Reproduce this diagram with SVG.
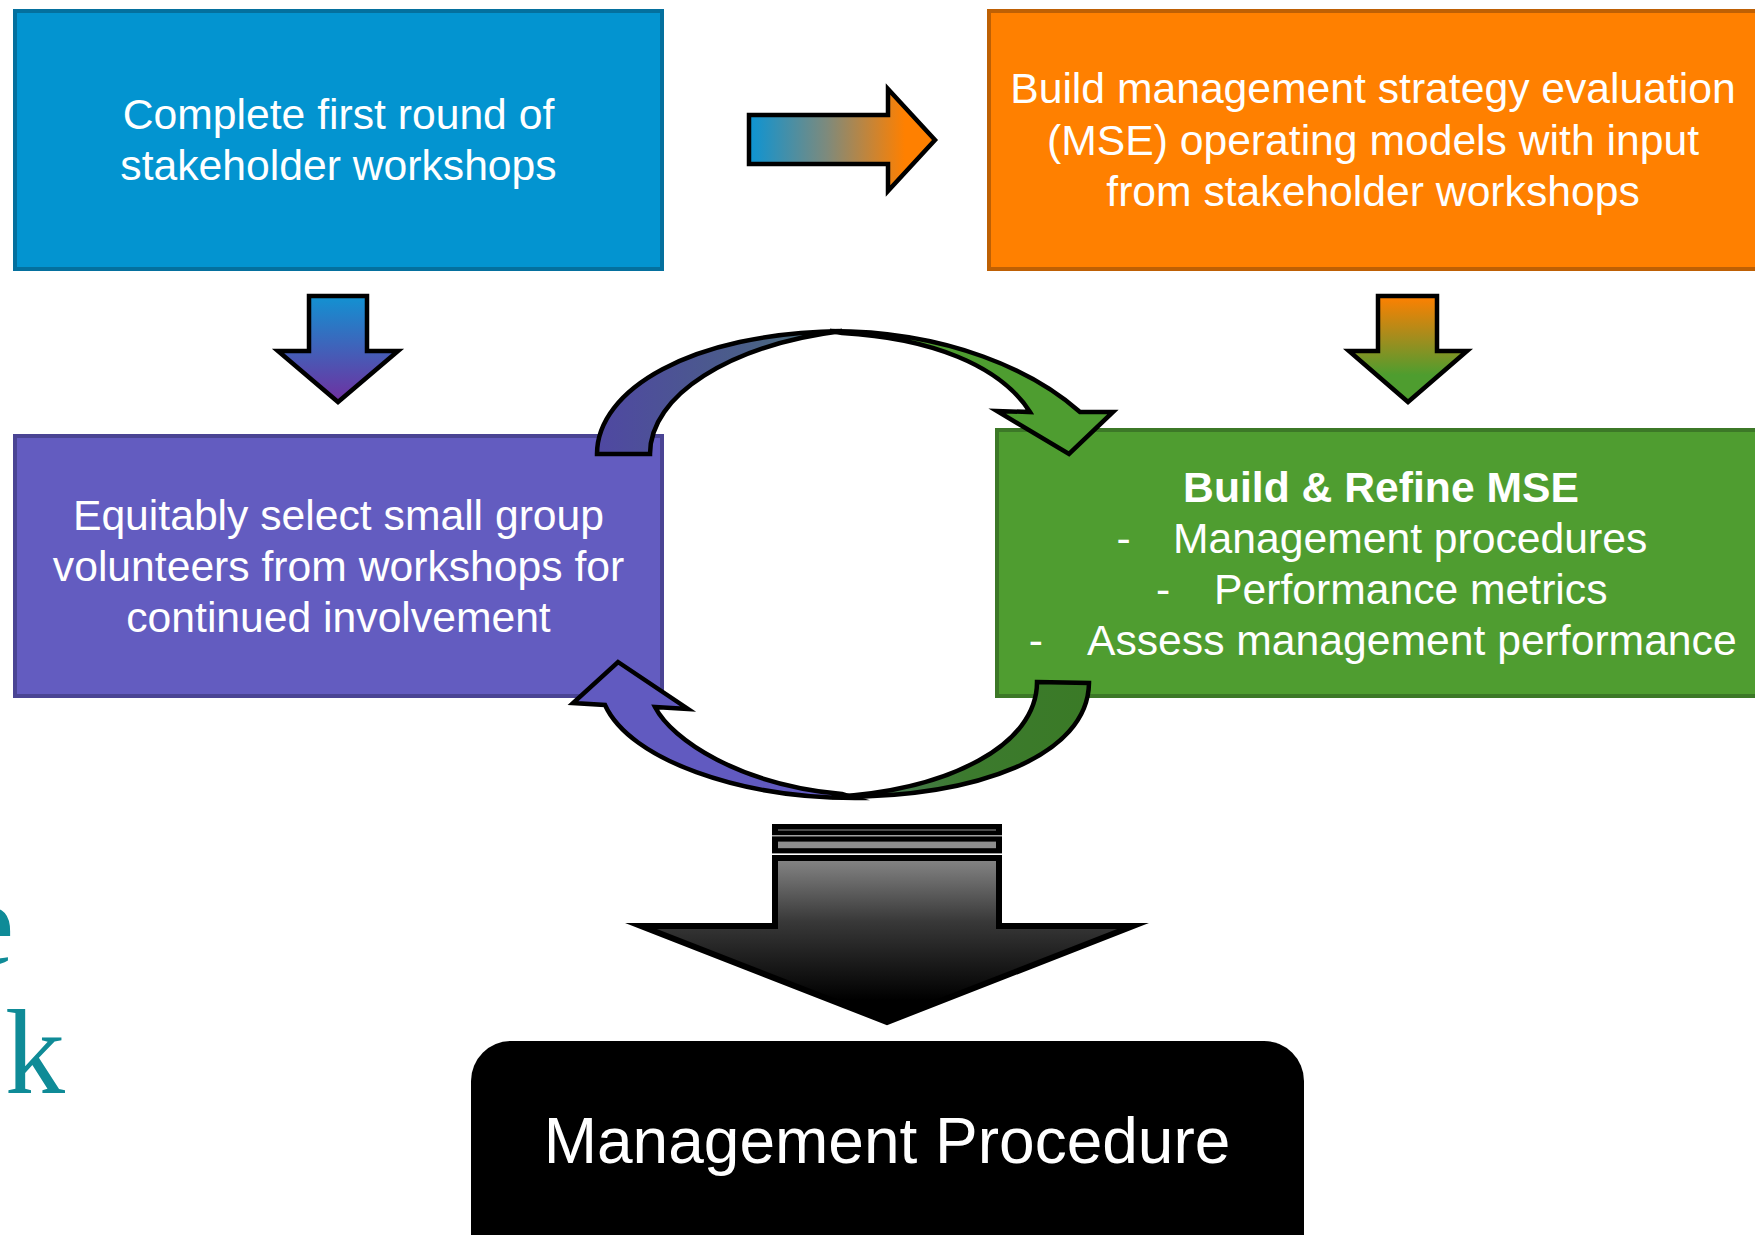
<svg xmlns="http://www.w3.org/2000/svg" width="1755" height="1235" viewBox="0 0 1755 1235">
  <style>
    .box { stroke-width: 4; }
    .t { font-family: "Liberation Sans", Arial, sans-serif; font-size: 42.67px; fill: #ffffff; }
    .mid { text-anchor: middle; }
    .b { font-weight: bold; }
    .conn { stroke: #000000; stroke-width: 4.5; stroke-linejoin: miter; stroke-miterlimit: 10; }
    .bg { font-family: "Liberation Serif", "Times New Roman", serif; font-size: 120px; fill: #0F8B97; }
  </style>
  <defs>
    <linearGradient id="gRight" gradientUnits="userSpaceOnUse" x1="749" y1="0" x2="905" y2="0">
      <stop offset="0" stop-color="#0C94D4"/>
      <stop offset="0.5" stop-color="#7E8A7C"/>
      <stop offset="1" stop-color="#FF8000"/>
    </linearGradient>
    <linearGradient id="gDownL" gradientUnits="userSpaceOnUse" x1="0" y1="296" x2="0" y2="402">
      <stop offset="0" stop-color="#1292D2"/>
      <stop offset="1" stop-color="#7030A0"/>
    </linearGradient>
    <linearGradient id="gDownR" gradientUnits="userSpaceOnUse" x1="0" y1="296" x2="0" y2="375">
      <stop offset="0" stop-color="#FF8000"/>
      <stop offset="0.5" stop-color="#A88C1C"/>
      <stop offset="1" stop-color="#4E9D2F"/>
    </linearGradient>
    <linearGradient id="gUL" gradientUnits="userSpaceOnUse" x1="597" y1="0" x2="845" y2="0">
      <stop offset="0" stop-color="#4F48A2"/>
      <stop offset="0.6" stop-color="#4A5E88"/>
      <stop offset="1" stop-color="#4A7672"/>
    </linearGradient>
    <linearGradient id="gLR" gradientUnits="userSpaceOnUse" x1="1090" y1="0" x2="840" y2="0">
      <stop offset="0" stop-color="#3A7A26"/>
      <stop offset="0.5" stop-color="#3C7A2E"/>
      <stop offset="1" stop-color="#4C7866"/>
    </linearGradient>
    <linearGradient id="gBig" gradientUnits="userSpaceOnUse" x1="0" y1="858" x2="0" y2="1000">
      <stop offset="0" stop-color="#868686"/>
      <stop offset="0.45" stop-color="#383838"/>
      <stop offset="1" stop-color="#000000"/>
    </linearGradient>
  </defs>

  <!-- background text fragments (cut off at the left edge, as in the picture) -->
  <g id="bg-text">
    <text class="bg" x="-39" y="964">e</text>
    <text class="bg" x="5" y="1093">k</text>
  </g>

  <!-- nodes -->
  <g id="node-workshops">
    <rect class="box" x="15" y="11" width="647" height="258" fill="#0394D0" stroke="#04709E"/>
    <text class="t mid" x="338.5" y="129">Complete first round of</text>
    <text class="t mid" x="338.5" y="180">stakeholder workshops</text>
  </g>

  <g id="node-build-mse">
    <rect class="box" x="989" y="11" width="770" height="258" fill="#FF8000" stroke="#BE6004"/>
    <text class="t mid" x="1373" y="103">Build management strategy evaluation</text>
    <text class="t mid" x="1373" y="155">(MSE) operating models with input</text>
    <text class="t mid" x="1373" y="206">from stakeholder workshops</text>
  </g>

  <g id="node-volunteers">
    <rect class="box" x="15" y="436" width="647" height="260" fill="#635CC0" stroke="#4A4494"/>
    <text class="t mid" x="338.5" y="530">Equitably select small group</text>
    <text class="t mid" x="338.5" y="581">volunteers from workshops for</text>
    <text class="t mid" x="338.5" y="632">continued involvement</text>
  </g>

  <g id="node-refine">
    <rect class="box" x="997" y="430" width="770" height="266" fill="#4F9D30" stroke="#3C7827"/>
    <text class="t mid b" x="1381" y="502">Build &amp; Refine MSE</text>
    <text class="t" x="1116.5" y="553">-</text>
    <text class="t" x="1173" y="553">Management procedures</text>
    <text class="t" x="1156" y="604">-</text>
    <text class="t" x="1214" y="604">Performance metrics</text>
    <text class="t" x="1028.7" y="655">-</text>
    <text class="t" x="1087" y="655">Assess management performance</text>
  </g>

  <g id="node-procedure">
    <rect x="471" y="1041" width="833" height="260" rx="40" ry="40" fill="#000000"/>
    <text class="mid" x="887" y="1163" font-family="Liberation Sans, Arial, sans-serif" font-size="64" fill="#ffffff">Management Procedure</text>
  </g>

  <!-- connectors -->
  <g id="connectors">
    <path class="conn" fill="url(#gRight)" d="M 749,115 L 888,115 L 888,89 L 935,140 L 888,191 L 888,164 L 749,164 Z"/>
    <path class="conn" fill="url(#gDownL)" d="M 309,296 L 367,296 L 367,351 L 398,351 L 338,402 L 278,351 L 309,351 Z"/>
    <path class="conn" fill="url(#gDownR)" d="M 1378,296 L 1437,296 L 1437,351 L 1467,351 L 1408,402 L 1349,351 L 1378,351 Z"/>

    <!-- cycle arrows -->
    <path class="conn" fill="#4E9D30" d="M 830,331 C 950,331 1035,372 1080,412 L 1113,412 L 1069,454 L 997,411 L 1030,412 C 1000,365 930,338 842,333 Z"/>
    <path class="conn" fill="url(#gUL)" d="M 597,454 C 597,390 690,333 842,331 C 730,345 650,395 650,454 Z"/>
    <path class="conn" fill="#615AC0" d="M 855,798 C 740,798 630,760 605,705 L 573,703 L 618,662 L 688,709 L 655,707 C 672,740 740,785 842,794 Z"/>
    <path class="conn" fill="url(#gLR)" d="M 1037,682 L 1089,683 C 1088,755 980,798 832,797 C 950,790 1037,745 1037,682 Z"/>

    <!-- big striped down arrow -->
    <rect x="772" y="824" width="230" height="11" fill="#000000"/>
    <rect x="778" y="829.3" width="218" height="1.4" fill="#6A6A6A"/>
    <rect x="772" y="835.2" width="230" height="1.2" fill="#8A8A8A"/>
    <rect x="772" y="836.4" width="230" height="17" fill="#000000"/>
    <rect x="778" y="841.6" width="218" height="6.6" fill="#8E8E8E"/>
    <path fill="url(#gBig)" stroke="#000000" stroke-width="6" stroke-linejoin="miter" stroke-miterlimit="10" d="M 775,858 L 999,858 L 999,926 L 1133,926 L 887,1022 L 641,926 L 775,926 Z"/>
  </g>
</svg>
